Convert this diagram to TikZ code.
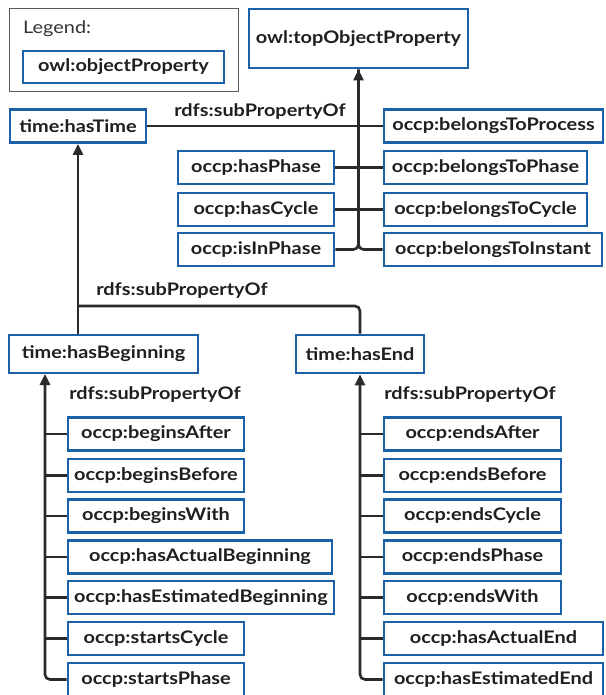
\documentclass[tikz,border=0pt]{standalone}
\usepackage{fontspec}
\setmainfont{Lato}[FakeStretch=1.15]
\usetikzlibrary{arrows.meta}
\definecolor{propblue}{HTML}{1A61A8}
\definecolor{linegray}{HTML}{2A2A2A}
\begin{document}
\begin{tikzpicture}[x=1pt,y=-1pt,
		prop/.style={draw=propblue,line width=2.8pt,fill=white,minimum height=33pt,inner sep=0pt,font=\bfseries\fontsize{17.3}{20}\selectfont,text=black!88},
		conn/.style={draw=linegray,line width=2.6pt},
		uparrow/.style={-{Triangle[width=10pt,length=11pt]}},
		lbl/.style={font=\bfseries\fontsize{17.3}{20}\selectfont,text=black!88}]
		\useasboundingbox (0,0) rectangle (605,695);
		
		% legend
		\node[draw=black!65,line width=1.3pt,minimum width=229pt,minimum height=83pt] (legend) at (124,50) {};
		\node[anchor=west,font=\fontsize{17.3}{20}\selectfont,text=black!80,inner sep=0pt] (legendtitle) at (23,29) {Legend:};
		\node[prop,minimum width=201pt,minimum height=32pt] (objprop) at (123.5,67) {owl:objectProperty};
		
		% top level
		\node[prop,minimum width=219pt,minimum height=59pt] (top) at (358.5,38.5) {owl:topObjectProperty};
		\node[prop,minimum width=136pt] (hasTime) at (78,126) {time:hasTime};
		\node[prop,minimum width=156pt] (hasPhase) at (256,167.5) {occp:hasPhase};
		\node[prop,minimum width=156pt] (hasCycle) at (256,209.5) {occp:hasCycle};
		\node[prop,minimum width=156pt] (isInPhase) at (256,249.5) {occp:isInPhase};
		\node[prop,minimum width=219pt] (belongsToProcess) at (493.5,126) {occp:belongsToProcess};
		\node[prop,minimum width=203pt] (belongsToPhase) at (485.5,167.5) {occp:belongsToPhase};
		\node[prop,minimum width=203pt] (belongsToCycle) at (485.5,209.5) {occp:belongsToCycle};
		\node[prop,minimum width=218pt] (belongsToInstant) at (493,249.5) {occp:belongsToInstant};
		
		\draw[conn] (hasTime.east) -- (belongsToProcess.west);
		\draw[conn] (hasPhase.east) -- (belongsToPhase.west);
		\draw[conn] (hasCycle.east) -- (belongsToCycle.west);
		\draw[conn,rounded corners=5pt] (belongsToInstant.west) -| (top.south);
		\draw[conn,uparrow,rounded corners=5pt] (isInPhase.east) -| (top.south);
		\node[lbl] (lbltop) at (260,112) {rdfs:subPropertyOf};
		
		% beginning and end
		\node[prop,minimum width=189pt,minimum height=38pt] (hasBeginning) at (103.5,354) {time:hasBeginning};
		\node[prop,minimum width=128pt,minimum height=38pt] (hasEnd) at (360,354) {time:hasEnd};
		\coordinate (split) at (79,306);
		
		\draw[conn,uparrow] (hasTime.south |- hasBeginning.north) -- (hasTime.south |- hasTime.south);
		\draw[conn,rounded corners=5pt] (hasEnd.north) |- (hasTime.south |- split);
		\node[lbl] (lblmid) at (182,291) {rdfs:subPropertyOf};
		
		% children of time:hasBeginning
		\node[prop,minimum width=176pt] (beginsAfter) at (156,434) {occp:beginsAfter};
		\node[prop,minimum width=176pt] (beginsBefore) at (156,475.5) {occp:beginsBefore};
		\node[prop,minimum width=176pt] (beginsWith) at (156,516) {occp:beginsWith};
		\node[prop,minimum width=264pt] (hasActualBeginning) at (200,557) {occp:hasActualBeginning};
		\node[prop,minimum width=266pt] (hasEstimatedBeginning) at (201,597.5) {occp:hasEstimatedBeginning};
		\node[prop,minimum width=176pt] (startsCycle) at (156,638.5) {occp:startsCycle};
		\node[prop,minimum width=176pt] (startsPhase) at (156,679.5) {occp:startsPhase};
		\coordinate (bbus) at (45,374);
		
		\draw[conn,uparrow,rounded corners=5pt] (startsPhase.west) -| (bbus);
		\foreach \n in {beginsAfter,beginsBefore,beginsWith,hasActualBeginning,hasEstimatedBeginning,startsCycle}
			\draw[conn] (\n.west) -- (\n.west -| bbus);
		\node[lbl] (lblbegin) at (155,395) {rdfs:subPropertyOf};
		
		% children of time:hasEnd
		\node[prop,minimum width=177pt] (endsAfter) at (472.5,434) {occp:endsAfter};
		\node[prop,minimum width=177pt] (endsBefore) at (472.5,475.5) {occp:endsBefore};
		\node[prop,minimum width=177pt] (endsCycle) at (472.5,516) {occp:endsCycle};
		\node[prop,minimum width=177pt] (endsPhase) at (472.5,557) {occp:endsPhase};
		\node[prop,minimum width=177pt] (endsWith) at (472.5,597.5) {occp:endsWith};
		\node[prop,minimum width=219pt] (hasActualEnd) at (493.5,638.5) {occp:hasActualEnd};
		\node[prop,minimum width=219pt] (hasEstimatedEnd) at (493.5,679.5) {occp:hasEstimatedEnd};
		
		\draw[conn,uparrow,rounded corners=5pt] (hasEstimatedEnd.west) -| (hasEnd.south);
		\foreach \n in {endsAfter,endsBefore,endsCycle,endsPhase,endsWith,hasActualEnd}
			\draw[conn] (\n.west) -- (\n.west -| hasEnd.south);
		\node[lbl] (lblend) at (470,395) {rdfs:subPropertyOf};
	\end{tikzpicture}
\end{document}
